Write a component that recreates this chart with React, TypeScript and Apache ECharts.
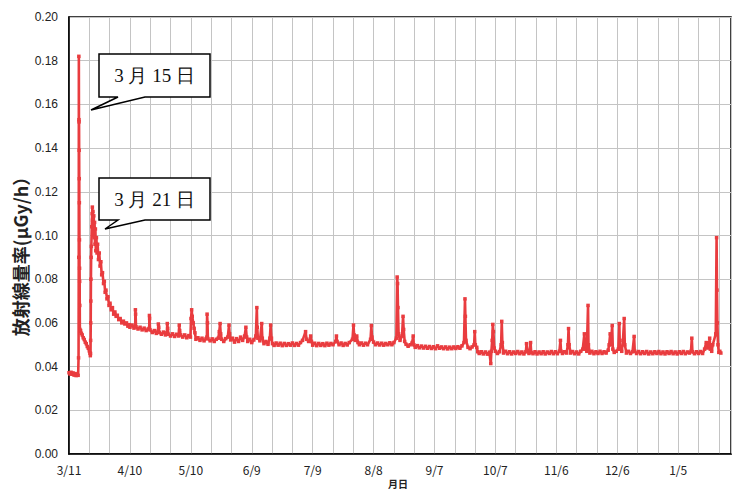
import React, { useEffect, useRef } from "react";
import * as echarts from "echarts";

// x: days elapsed since 3/11 (2011), y: air dose rate (μGy/h)
const tickLabels = ["3/11", "4/10", "5/10", "6/9", "7/9", "8/8", "9/7", "10/7", "11/6", "12/6", "1/5"];
const yTicks = [0, 0.02, 0.04, 0.06, 0.08, 0.1, 0.12, 0.14, 0.16, 0.18, 0.2];

const earlyReadings: number[][] = [
  [0, 0.0372], [0.5, 0.0366], [1, 0.0374], [1.5, 0.0365], [2, 0.0371], [2.5, 0.0361], [3, 0.0368], [3.5, 0.0359], [4, 0.0366], [4.5, 0.0360],
  [4.7, 0.044], [4.8, 0.09], [4.85, 0.182], [4.9, 0.153], [4.95, 0.152], [5.0, 0.139], [5.05, 0.126], [5.1, 0.115], [5.15, 0.098], [5.2, 0.085], [5.25, 0.079], [5.3, 0.068], [5.35, 0.057],
  [5.7, 0.0565], [6.1, 0.0552], [6.5, 0.0545], [7, 0.0532], [7.5, 0.0524], [8, 0.0512], [8.5, 0.0505], [9, 0.0492], [9.5, 0.0484], [10, 0.0472], [10.3, 0.0462], [10.5, 0.0450],
];

const march21Readings: number[][] = [
  [10.6, 0.046], [10.65, 0.052], [10.7, 0.06], [10.75, 0.07], [10.8, 0.08], [10.9, 0.09], [11.0, 0.095], [11.2, 0.104], [11.4, 0.11], [11.5, 0.113],
  [11.6, 0.107], [11.8, 0.111], [12.0, 0.103], [12.2, 0.109], [12.4, 0.099], [12.6, 0.106], [12.8, 0.096], [13.0, 0.103], [13.2, 0.093], [13.5, 0.099],
  [13.8, 0.092], [14.1, 0.096], [14.5, 0.089], [14.9, 0.092], [15.3, 0.086], [15.7, 0.088], [16.1, 0.082], [16.5, 0.083], [17, 0.078], [17.4, 0.079],
  [17.8, 0.074], [18.2, 0.075], [18.7, 0.071], [19.2, 0.072], [19.7, 0.068], [20.2, 0.069], [20.8, 0.066], [21.4, 0.067], [22, 0.064], [22.6, 0.065],
  [23.2, 0.063], [23.8, 0.0635], [24.5, 0.0615], [25.2, 0.062], [26, 0.06], [26.8, 0.0608], [27.5, 0.0595], [28.3, 0.06], [29, 0.0585], [29.7, 0.0592],
];

const springReadings: number[][] = [
  [30, 0.058], [31, 0.059], [32, 0.0576], [32.6, 0.0585], [32.7, 0.066], [32.8, 0.064], [33, 0.0582], [34, 0.0572], [35, 0.058], [36, 0.0568],
  [37, 0.0576], [38, 0.0565], [39, 0.0572], [39.5, 0.0575], [39.6, 0.0634], [39.7, 0.062], [39.9, 0.0568], [41, 0.0556], [42, 0.0565], [43, 0.0552],
  [43.8, 0.0562], [44, 0.0595], [44.2, 0.058], [44.5, 0.0556], [45.5, 0.0548], [46.5, 0.0558], [47.5, 0.0545], [48.2, 0.0555], [48.4, 0.0597], [48.6, 0.0575],
  [49, 0.0548], [50, 0.054], [51, 0.055], [52, 0.0538], [53, 0.0548], [54, 0.054], [54.3, 0.059], [54.5, 0.0565], [55, 0.0545], [56, 0.0535],
  [57, 0.0545], [58, 0.0532], [59, 0.0542], [59.8, 0.0535], [60.1, 0.062], [60.4, 0.066], [60.7, 0.063], [61.2, 0.06], [61.6, 0.0575], [62, 0.0555],
  [62.5, 0.0525], [63.5, 0.0532], [64.5, 0.052], [65.5, 0.053], [66.5, 0.0518], [67.5, 0.0528], [67.9, 0.0535], [68, 0.064], [68.2, 0.06], [68.4, 0.0528],
  [69.5, 0.0518], [70.5, 0.0527], [71.5, 0.0515], [72.5, 0.0525], [73.5, 0.053], [74, 0.056], [74.4, 0.0597], [74.7, 0.055], [75.2, 0.0525], [76.2, 0.0515],
  [77.2, 0.0528], [78.2, 0.0535], [78.8, 0.059], [79.1, 0.055], [79.6, 0.0522], [80.5, 0.053], [81.5, 0.0512], [82.5, 0.0528], [83.5, 0.0515], [84.5, 0.0535],
  [85.5, 0.052], [86.5, 0.054], [87.1, 0.058], [87.5, 0.0535], [88, 0.0515], [89, 0.0525], [90, 0.051], [91, 0.0522], [92, 0.054], [92.5, 0.067],
  [92.7, 0.058], [93, 0.053], [94, 0.0518], [94.9, 0.0597], [95.2, 0.053], [96, 0.0505], [97, 0.0515], [98, 0.0502], [98.9, 0.053], [99.3, 0.059],
  [99.7, 0.053], [100.2, 0.0505],
];

const summerReadings: number[][] = [
  [101, 0.0497], [102, 0.0508], [103, 0.0498], [104, 0.0507], [105, 0.0496], [106, 0.0506], [107, 0.0497], [108, 0.0505], [109, 0.0498], [110, 0.0508],
  [111, 0.0497], [112, 0.0506], [113, 0.0498], [114, 0.051], [115, 0.052], [116.5, 0.056], [117, 0.0525], [118, 0.0515], [118.8, 0.0525], [119, 0.054],
  [119.4, 0.0515], [120, 0.0498], [121, 0.0507], [122, 0.0496], [123, 0.0506], [124, 0.0497], [125, 0.0505], [126, 0.0496], [127, 0.0507], [128, 0.0498],
  [129, 0.0506], [130, 0.05], [131.3, 0.0515], [131.7, 0.054], [132, 0.0515], [133, 0.05], [134, 0.0508], [135, 0.0497], [136, 0.0506], [137, 0.0499],
  [138, 0.051], [139.6, 0.0525], [140.1, 0.059], [140.4, 0.0545], [141, 0.052], [141.7, 0.054], [142.3, 0.051], [143, 0.05], [144, 0.0508], [145, 0.0498],
  [146, 0.0507], [147, 0.05], [148.5, 0.0525], [148.9, 0.0588], [149.2, 0.0535], [150, 0.0512], [151, 0.05], [152, 0.0508], [153, 0.0499], [154, 0.0507],
  [155, 0.0498], [156, 0.0506], [157, 0.05], [158, 0.0509], [159, 0.05], [160, 0.051], [161.2, 0.053], [161.6, 0.081], [161.8, 0.078], [162, 0.067],
  [162.3, 0.055], [163, 0.052], [164, 0.054], [164.5, 0.063], [164.8, 0.057], [165.3, 0.0515], [166, 0.0502], [167, 0.0493], [168, 0.05], [169, 0.051],
  [169.5, 0.054], [169.8, 0.05], [170.5, 0.0488], [171.5, 0.0496], [172.5, 0.0486], [173.5, 0.0494], [174.5, 0.0485], [175.5, 0.0493], [176.5, 0.0484], [177.5, 0.0492],
  [178.5, 0.0483], [179.5, 0.0491], [180.5, 0.0482], [181.5, 0.0495], [182.5, 0.0484], [183.5, 0.049], [184.5, 0.0482], [185.5, 0.049], [186.5, 0.0481], [187.5, 0.0489],
  [188.5, 0.0482], [189.5, 0.049], [190.5, 0.0483], [191.5, 0.0491], [192.5, 0.0484], [193.5, 0.0495], [194.5, 0.051], [195, 0.071], [195.2, 0.063], [195.5, 0.052],
  [196.5, 0.0488], [197.5, 0.0482], [198.5, 0.049], [199.5, 0.05], [199.8, 0.056], [200.1, 0.05], [200.8, 0.0488], [201.3, 0.0468], [202, 0.046],
];

const winterReadings: number[][] = [
  [203, 0.0468], [204, 0.0458], [205, 0.0467], [206, 0.0457], [207, 0.0466], [207.7, 0.0414], [208, 0.047], [208.4, 0.052], [208.7, 0.0593], [209, 0.056],
  [209.4, 0.0485], [210, 0.047], [211, 0.046], [212, 0.0468], [212.8, 0.05], [213.1, 0.0607], [213.4, 0.051], [214, 0.0462], [215, 0.047], [216, 0.0459],
  [217, 0.0468], [218, 0.0458], [219, 0.0467], [220, 0.046], [221, 0.0469], [222, 0.0459], [223, 0.0467], [224, 0.0458], [225, 0.0468], [225.3, 0.0505],
  [225.6, 0.047], [226.5, 0.046], [227.3, 0.051], [227.6, 0.0465], [228.5, 0.0459], [229.5, 0.0468], [230.5, 0.0458], [231.5, 0.0467], [232.5, 0.0459], [233.5, 0.0468],
  [234.5, 0.0458], [235.5, 0.0467], [236.5, 0.046], [237.5, 0.0469], [238.5, 0.0459], [239.5, 0.0468], [240.5, 0.0459], [241.5, 0.047], [242, 0.052], [242.3, 0.047],
  [243, 0.046], [244, 0.0468], [245, 0.0462], [245.7, 0.05], [246, 0.0574], [246.3, 0.05], [247, 0.0462], [248, 0.0469], [249, 0.0459], [250, 0.0467],
  [251, 0.0458], [252, 0.047], [253, 0.048], [253.8, 0.055], [254.1, 0.048], [255, 0.047], [255.6, 0.068], [255.8, 0.05], [256.5, 0.0462], [257.5, 0.047],
  [258.5, 0.0459], [259.5, 0.0468], [260.5, 0.046], [261.5, 0.047], [262.5, 0.046], [263.5, 0.0468], [264.5, 0.0462], [265.5, 0.0475], [266, 0.05], [266.5, 0.055],
  [266.8, 0.05], [267.5, 0.0588], [267.8, 0.048], [268.5, 0.0465], [269.5, 0.047], [270.5, 0.048], [271, 0.0597], [271.3, 0.048], [272.2, 0.047], [272.8, 0.052],
  [273.4, 0.062], [273.7, 0.05], [274.5, 0.0462], [275.5, 0.047], [276.5, 0.046], [277.5, 0.0468], [278.3, 0.0538], [278.6, 0.047], [279.5, 0.046], [280.5, 0.0469],
  [281.5, 0.0459], [282.5, 0.0468], [283.5, 0.046], [284.5, 0.0469], [285.5, 0.0458], [286.5, 0.0467], [287.5, 0.0459], [288.5, 0.0468], [289.5, 0.046], [290.5, 0.0469],
  [291.5, 0.0459], [292.5, 0.0467], [293.5, 0.0458], [294.5, 0.0468], [295.5, 0.046], [296.5, 0.0469], [297.5, 0.0459], [298.5, 0.0467], [299.5, 0.0458], [300.5, 0.0468],
  [301.5, 0.046], [302.5, 0.0469], [303.5, 0.0459], [304.5, 0.0467], [305.5, 0.0462], [306.3, 0.047], [306.7, 0.053], [307, 0.0468], [308, 0.0459], [309, 0.0468],
  [310, 0.046], [311, 0.0469], [312, 0.046], [313, 0.048], [313.8, 0.051], [314.3, 0.0485], [315.1, 0.0495], [315.5, 0.053], [315.8, 0.048], [316.5, 0.047],
  [317, 0.05], [318.5, 0.055], [318.9, 0.099], [319.1, 0.075], [319.3, 0.06], [319.6, 0.05], [320, 0.0465], [320.5, 0.047], [321, 0.0462],
];

const readings = [...earlyReadings, ...march21Readings, ...springReadings, ...summerReadings, ...winterReadings];

const callouts = [
  { text: "3 月 15 日", box: [99, 54, 210, 97], tip: [91, 110] },
  { text: "3 月 21 日", box: [99, 178, 210, 220], tip: [105, 229] },
];

export default function App() {
  const ref = useRef<HTMLDivElement>(null);
  useEffect(() => {
    if (!ref.current) return;
    const chart = echarts.init(ref.current, null, { renderer: "svg" });
    const red = "#e93c3f";
    const graphics: any[] = [];
    callouts.forEach((c) => {
      const [x1, y1, x2, y2] = c.box;
      graphics.push({
        type: "polygon",
        shape: {
          points: [[x1, y1], [x2, y1], [x2, y2], [145, y2], c.tip, [118, y2], [x1, y2]],
        },
        style: { fill: "#fff", stroke: "#000", lineWidth: 1.5 },
        z: 100,
      });
      graphics.push({
        type: "text",
        x: (x1 + x2) / 2,
        y: (y1 + y2) / 2,
        style: {
          text: c.text,
          font: "19px 'Liberation Serif', 'DejaVu Serif', serif",
          fill: "#111",
          align: "center",
          verticalAlign: "middle",
        },
        z: 101,
      });
    });
    graphics.push({
      type: "text",
      x: 20,
      y: 252,
      rotation: Math.PI / 2,
      style: {
        text: "放射線量率(μGy/h）",
        font: "bold 18px 'Noto Sans CJK JP', sans-serif",
        fill: "#222",
        align: "center",
        verticalAlign: "middle",
      },
    });
    graphics.push({
      type: "text",
      x: 398,
      y: 483,
      style: {
        text: "月日",
        font: "bold 10px 'Noto Sans CJK JP', sans-serif",
        fill: "#222",
        align: "center",
        verticalAlign: "middle",
      },
    });

    chart.setOption({
      animation: false,
      backgroundColor: "#fff",
      grid: {
        left: 69,
        right: 0,
        top: 17,
        bottom: 37,
        show: true,
        borderColor: "#000",
        borderWidth: 1.5,
      },
      xAxis: {
        type: "value",
        min: 0,
        max: 326,
        interval: 10,
        axisLine: { show: true, lineStyle: { color: "#000", width: 1.5 } },
        axisTick: { show: false },
        splitLine: { show: true, lineStyle: { color: "#c4c4c4", width: 1 } },
        axisLabel: {
          margin: 9,
          color: "#222",
          fontSize: 12,
          fontFamily: "'Noto Sans CJK JP', sans-serif",
          formatter: (v: number) => (v % 30 === 0 && v / 30 < tickLabels.length ? tickLabels[v / 30] : ""),
        },
      },
      yAxis: {
        type: "value",
        min: yTicks[0],
        max: yTicks[yTicks.length - 1],
        interval: 0.02,
        axisLine: { show: true, lineStyle: { color: "#000", width: 1.5 } },
        axisTick: { show: false },
        splitLine: { show: true, lineStyle: { color: "#c4c4c4", width: 1 } },
        axisLabel: {
          margin: 11,
          color: "#222",
          fontSize: 12,
          fontFamily: "'Liberation Sans', Arial, sans-serif",
          formatter: (v: number) => v.toFixed(2),
        },
      },
      series: [
        {
          type: "line",
          data: readings,
          symbol: "rect",
          symbolSize: 3.5,
          showSymbol: true,
          lineStyle: { color: red, width: 2.6 },
          itemStyle: { color: red },
          z: 5,
        },
      ],
      graphic: graphics,
    });
    return () => chart.dispose();
  }, []);
  return <div ref={ref} style={{ position: "absolute", left: 0, top: 0, width: 734, height: 491 }} />;
}
